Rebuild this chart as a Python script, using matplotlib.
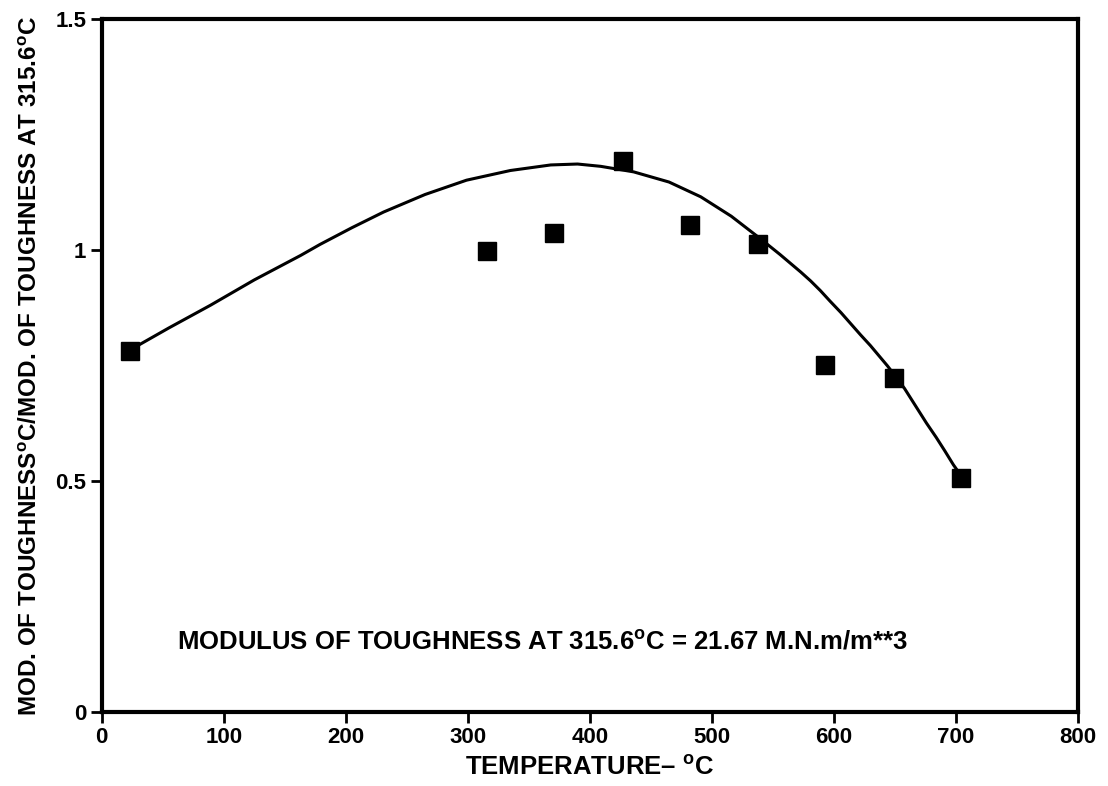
import matplotlib.pyplot as plt

plt.rcParams['font.family'] = ['Liberation Sans', 'DejaVu Sans']
plt.rcParams['font.weight'] = 'bold'
plt.rcParams['axes.labelweight'] = 'bold'
plt.rcParams['mathtext.fontset'] = 'custom'
plt.rcParams['mathtext.bf'] = 'Liberation Sans:bold'
plt.rcParams['mathtext.rm'] = 'Liberation Sans:bold'

# measured points
temps = [23, 315.6, 371, 427, 482, 538, 593, 649, 704]
ratio = [0.782, 0.997, 1.036, 1.192, 1.053, 1.012, 0.750, 0.723, 0.506]

# fitted curve
curve_t = [23, 55, 89, 125, 163, 179, 205, 231, 265, 299, 335, 368, 390,
           409, 436, 465, 491, 516, 540, 556, 573, 581, 589, 597, 606, 614,
           622, 630, 637, 644, 651, 658, 664, 670, 676, 684, 691, 698, 706]
curve_r = [0.783, 0.831, 0.880, 0.935, 0.988, 1.012, 1.048, 1.082, 1.120,
           1.151, 1.172, 1.184, 1.186, 1.181, 1.169, 1.147, 1.115, 1.073,
           1.024, 0.990, 0.952, 0.933, 0.912, 0.889, 0.864, 0.840, 0.816,
           0.793, 0.771, 0.749, 0.725, 0.700, 0.675, 0.650, 0.625, 0.594,
           0.565, 0.535, 0.505]

xticks = [0, 100, 200, 300, 400, 500, 600, 700, 800]
yticks = [0, 0.5, 1, 1.5]
ytick_labels = ['0', '0.5', '1', '1.5']

fig = plt.figure(figsize=(11.08, 7.86), dpi=100)
ax = fig.add_axes([0.0918, 0.0945, 0.8809, 0.8813])

ax.plot(curve_t, curve_r, color='black', lw=2.2, zorder=2)
ax.plot(temps, ratio, 's', color='black', markersize=13.5, zorder=3)

ax.set_xlim(0, 800)
ax.set_ylim(0, 1.5)
ax.set_xticks(xticks)
ax.set_yticks(yticks)
ax.set_yticklabels(ytick_labels)
ax.tick_params(direction='out', length=8, width=2, labelsize=16, pad=3)
for s in ax.spines.values():
    s.set_linewidth(3)

ax.set_xlabel('TEMPERATURE\u2013 $^{\\mathbf{o}}$C', fontsize=18.5,
              fontweight='bold', labelpad=5)
ax.set_ylabel('MOD. OF TOUGHNESS$^{\\mathbf{o}}$C/MOD. OF TOUGHNESS AT 315.6$^{\\mathbf{o}}$C',
              fontsize=17.5, fontweight='bold', labelpad=10)

ax.text(62, 0.152, 'MODULUS OF TOUGHNESS AT 315.6$^{\\mathbf{o}}$C = 21.67 M.N.m/m**3',
        fontsize=18.5, ha='left', va='center')

fig.savefig('out.png', dpi=100)
